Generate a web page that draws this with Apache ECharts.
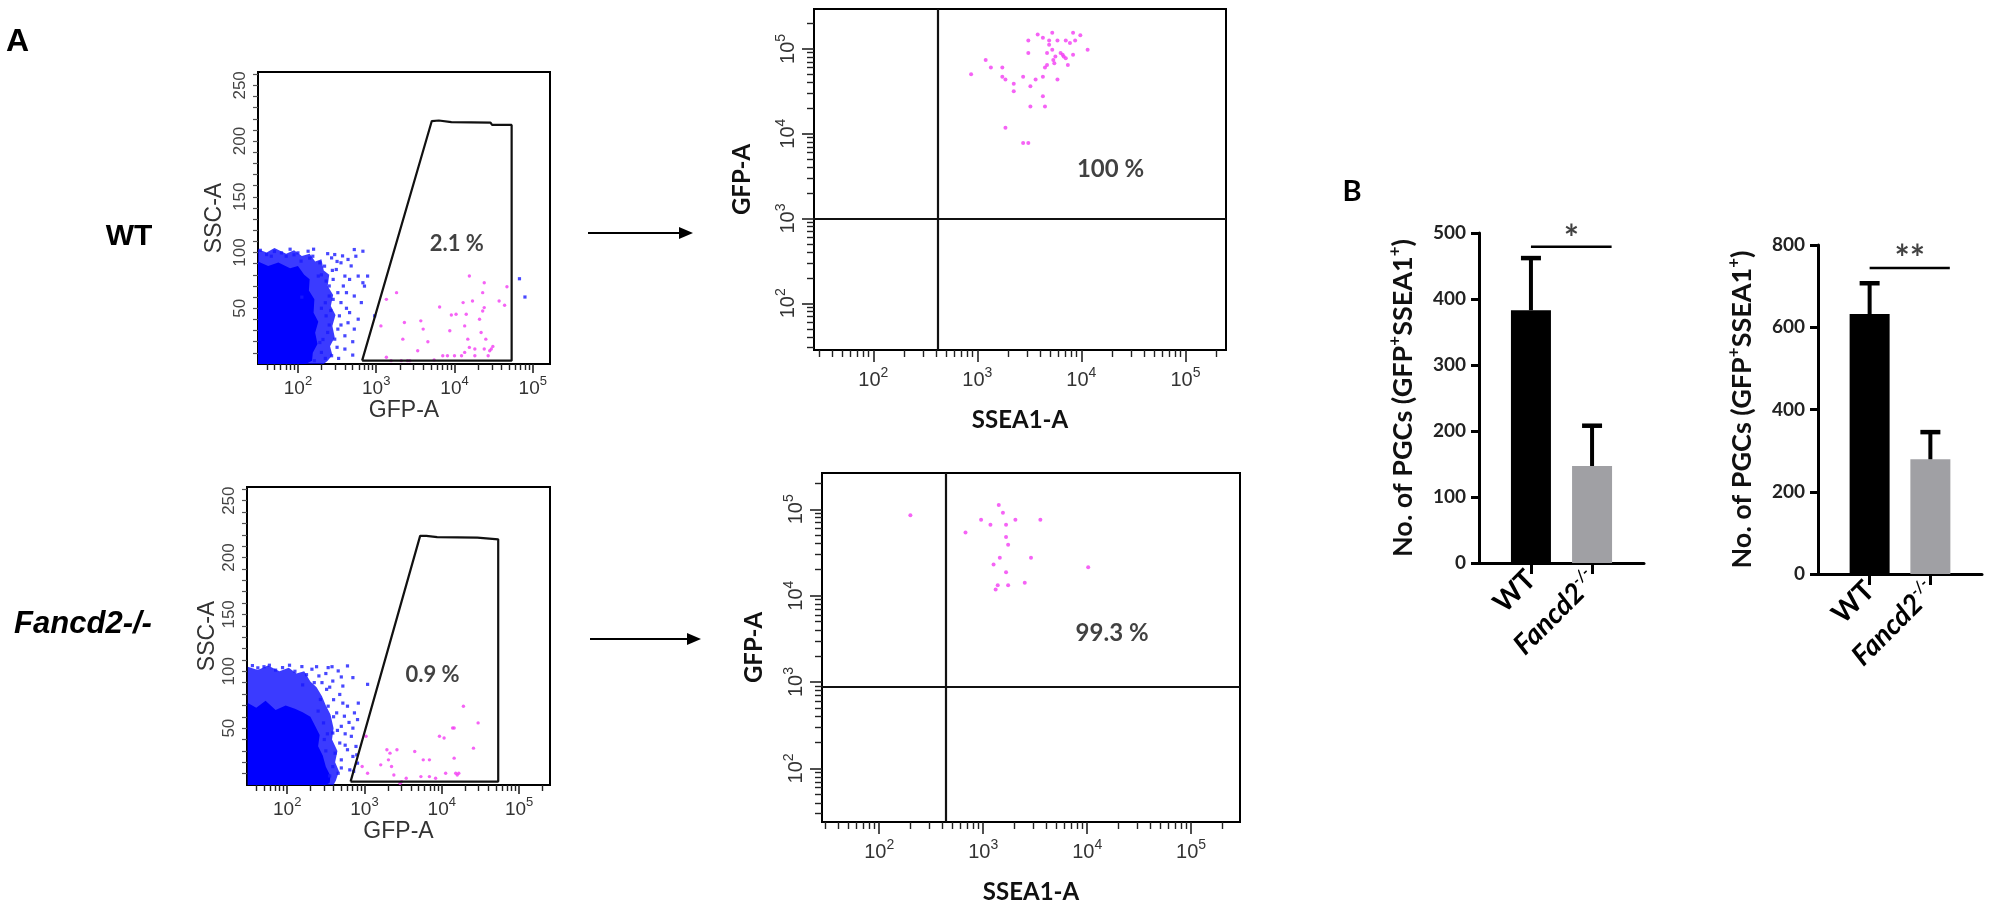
<!DOCTYPE html>
<html><head><meta charset="utf-8">
<script src="https://cdn.jsdelivr.net/npm/echarts@6/dist/echarts.min.js"></script>
<style>html,body{margin:0;padding:0;background:#fff}#c{width:1990px;height:909px}</style>
</head><body><div id="c"></div>
<script>
// ================= DATA =================
// Panel A, left column: x = log10(GFP-A), y = SSC-A (x1000)
const decadeExps = [1, 2, 3, 4, 5];
const minorMultipliers = [2, 3, 4, 5, 6, 7, 8, 9];
const sscLabels = [50, 100, 150, 200, 250];
const sscMinorTicks = [10,20,30,40,50,60,70,80,90,100,110,120,130,140,150,160,170,180,190,200,210,220,230,240,250,260];

// dense event cloud (solid core + halo outline) and individual outlying events
const wtCore = [[1.49,0],[1.49,92],[1.62,88],[1.75,91],[1.90,86],[2.00,88],[2.08,80],[2.15,76],[2.14,66],[2.21,58],[2.20,46],[2.26,38],[2.22,28],[2.25,18],[2.19,10],[2.18,3],[2.10,0]];
const wtHalo = [[1.49,0],[1.49,103],[1.60,100],[1.70,104],[1.85,99],[1.95,102],[2.05,97],[2.15,99],[2.22,92],[2.30,94],[2.33,84],[2.40,80],[2.38,70],[2.45,62],[2.42,52],[2.48,44],[2.44,34],[2.47,24],[2.41,16],[2.44,8],[2.38,3],[2.33,0]];
const wtBlue = [[1.60,98.2],[1.79,99.7],[2.00,99.7],[2.13,101.2],[2.19,96.7],[2.28,90.8],[2.34,87.8],[2.43,95.2],[2.47,98.2],[2.49,84.8],[2.55,90.8],[2.60,78.9],[2.64,93.8],[2.72,102.7],[2.74,96.7],[2.83,101.2],[2.85,69.9],[2.81,55.1],[2.72,31.3],[2.60,13.4],[2.47,22.3],[2.40,61.0],[2.51,64.0],[2.36,43.2],[2.43,7.4],[2.30,10.4],[2.21,3.0],[2.53,43.2],[2.66,75.9],[2.77,78.9],[2.60,25.3],[2.45,75.9],[2.26,78.9],[2.04,92.3],[1.85,96.7],[1.66,96.7],[2.36,74.4],[2.28,19.3],[2.55,55.1],[2.72,61.0],[2.66,46.1],[2.51,31.3],[2.38,28.3],[2.77,40.2],[2.98,43.2],[2.89,78.9],[2.83,72.9],[2.62,64.0],[1.52,102],[1.70,101],[1.95,98],[2.15,95],[2.30,80],[2.40,70],[2.35,55],[2.40,35],[2.32,22],[2.05,60],[2.30,50],[2.42,48],[2.45,58],[2.50,15],[2.55,35],[2.58,70],[2.62,50],[2.70,20],[2.68,88],[2.57,97],[2.38,99],[2.20,103],[1.90,103],[2.52,5],[2.64,37],[2.35,5],[2.44,84],[2.50,92],[2.70,8],[4.83,76.5],[4.90,60.1]];
const wtPink = [[3.26,64.0],[3.13,58.0],[3.06,34.2],[3.36,37.2],[3.57,38.7],[3.60,31.3],[3.34,22.3],[3.13,6.0],[3.19,3.0],[3.32,3.0],[3.43,3.0],[3.53,11.9],[3.66,19.9],[3.74,3.6],[3.81,51.2],[3.85,7.4],[3.94,29.8],[3.96,44.0],[4.02,44.6],[4.11,55.1],[4.13,34.2],[4.15,44.6],[4.17,22.3],[4.19,14.9],[4.19,78.9],[4.23,56.5],[4.26,7.4],[4.32,40.2],[4.34,28.3],[4.36,47.6],[4.36,64.0],[4.38,50.6],[4.38,13.4],[4.40,22.3],[4.43,7.4],[4.45,11.9],[4.47,13.4],[4.49,15.8],[4.57,56.5],[4.64,52.7],[4.67,69.3],[3.91,7.4],[4.00,7.4],[4.09,7.4],[4.13,10.4],[4.26,13.4],[4.38,72.9],[3.40,3.0]];
const wtGate = [[2.82,3],[3.71,218],[3.80,218.5],[3.96,217],[4.46,216.5],[4.48,214.5],[4.73,214.5],[4.73,3],[2.82,3]];

const koCore = [[1.49,0],[1.49,72],[1.60,68],[1.72,74],[1.85,66],[1.98,70],[2.10,67],[2.20,64],[2.30,60],[2.36,52],[2.42,44],[2.40,34],[2.46,26],[2.50,16],[2.56,8],[2.55,2],[2.50,0]];
const koHalo = [[1.49,0],[1.49,104],[1.62,101],[1.75,105],[1.90,100],[2.02,103],[2.12,98],[2.22,100],[2.30,91],[2.38,86],[2.45,78],[2.50,70],[2.56,62],[2.60,50],[2.58,40],[2.65,30],[2.62,20],[2.67,12],[2.63,4],[2.60,0]];
const koBlue = [[1.77,105.3],[1.94,103.2],[2.03,105.3],[2.19,104.1],[2.32,101.8],[2.53,103.2],[2.66,100.3],[2.78,104.7],[2.41,95.9],[2.59,91.4],[2.72,87.0],[2.85,94.4],[2.51,84.1],[2.68,79.6],[2.78,69.3],[2.87,63.4],[2.91,57.5],[2.64,63.4],[2.53,69.3],[2.43,75.2],[2.70,51.6],[2.83,42.8],[2.89,33.9],[2.78,31.0],[2.68,36.9],[2.59,45.7],[2.70,22.1],[2.85,25.1],[2.91,19.2],[2.81,13.3],[2.66,10.3],[3.04,88.5],[2.90,26.5],[2.86,12.0],[2.59,16.2],[2.47,54.6],[2.74,60.5],[1.55,105],[1.62,103],[1.70,104],[1.85,101],[2.10,100],[2.25,97],[2.35,90],[2.20,88],[2.60,75],[2.48,40],[2.62,28],[2.75,45],[2.45,90],[2.50,98],[2.55,86],[2.60,60],[2.65,48],[2.50,30],[2.55,8],[2.72,72],[2.75,35],[2.80,55],[2.58,104],[2.38,104],[2.40,65],[2.52,45],[2.70,15],[2.85,50],[2.92,72],[2.70,95]];
const koPink = [[3.02,42.8],[2.97,16.2],[3.04,10.3],[3.21,17.7],[3.29,31.0],[3.33,28.0],[3.31,22.1],[3.35,16.2],[3.38,8.8],[3.42,31.0],[3.46,1.5],[3.54,5.9],[3.65,29.5],[3.76,22.1],[3.73,7.4],[3.84,7.4],[3.92,5.9],[3.97,42.8],[4.03,41.3],[4.14,50.1],[4.16,50.1],[4.16,23.6],[4.18,10.3],[4.20,8.8],[4.22,10.3],[4.28,69.3],[4.41,32.4],[4.47,54.6],[3.48,2.9],[4.05,10.3],[3.84,22.1]];
const koGate = [[2.82,3],[3.72,219],[3.80,219],[3.94,218],[4.46,217.5],[4.48,216],[4.73,216],[4.73,3],[2.82,3]];
const gatePct = ['2.1 %', '0.9 %'];
const gatePctPos = [[4.03,108],[3.88,97]];

// Panel A, right column: x = log10(SSEA1-A), y = log10(GFP-A)
const wtQuad = [[2.94,4.70],[3.08,4.87],[3.13,4.78],[3.24,4.78],[3.24,4.67],[3.27,4.64],[3.35,4.59],[3.35,4.50],[3.27,4.07],[3.44,3.89],[3.49,3.89],[3.44,4.67],[3.49,5.10],[3.49,4.95],[3.51,4.56],[3.51,4.32],[3.56,4.64],[3.58,5.17],[3.63,5.13],[3.63,4.67],[3.63,4.44],[3.65,4.32],[3.65,4.78],[3.67,4.81],[3.67,4.95],[3.69,5.05],[3.69,5.10],[3.72,4.99],[3.72,5.19],[3.73,4.87],[3.75,4.91],[3.77,5.10],[3.77,4.64],[3.80,4.95],[3.82,4.93],[3.83,4.91],[3.85,5.10],[3.87,4.81],[3.89,5.07],[3.92,5.19],[3.92,4.93],[3.94,5.10],[3.99,5.16],[4.06,4.99],[3.85,4.89],[3.74,4.83]];
const koQuad = [[2.30,4.93],[2.83,4.73],[2.98,4.88],[3.07,4.82],[3.15,5.05],[3.19,4.96],[3.22,4.82],[3.31,4.88],[3.22,4.68],[3.24,4.59],[3.55,4.88],[3.16,4.44],[3.46,4.44],[3.10,4.36],[3.22,4.27],[4.01,4.33],[3.14,4.12],[3.24,4.12],[3.40,4.15],[3.12,4.07]];
const quadCuts = [[2.62, 3.0], [2.64, 2.94]];
const quadPct = ['100 %', '99.3 %'];
const quadPctPos = [[4.28,3.58],[4.24,3.56]];

// Panel B
const groups = ['WT', 'Fancd2'];
const pgc1Mean = [383, 147], pgc1Err = [79, 61];
const pgc2Mean = [632, 279], pgc2Err = [75, 66];
const sigMarks = ['*', '**'];
const sigLevels = [479, 744];

// ================= HELPERS =================
const ARIAL = '"Liberation Sans", Arial, sans-serif';
const CAL = 'Lato, "Open Sans", sans-serif';

function majorLog(min, max) { return decadeExps.filter(v => v >= min && v <= max); }
function minorLog(min, max) {
  const out = [];
  decadeExps.forEach(d => minorMultipliers.forEach(m => { const v = d + Math.log10(m); if (v > min && v < max) out.push(v); }));
  return out;
}
function pow10Rich(fs, color, family) {
  return {
    b: { fontSize: fs, fontFamily: family, color: color, verticalAlign: 'bottom' },
    s: { fontSize: Math.round(fs * 0.7), fontFamily: family, color: color, verticalAlign: 'bottom', padding: [0, 0, Math.round(fs * 0.5), 0] }
  };
}
function logAxes(gridIndex, min, max, o) {
  const major = {
    type: 'value', gridIndex, min, max, position: o.position,
    splitLine: { show: false },
    axisLine: { show: true, onZero: false, lineStyle: { color: '#000', width: 2 } },
    axisTick: { show: true, customValues: majorLog(min, max), length: o.majorLen, lineStyle: { color: '#222', width: 1.6 } },
    axisLabel: { show: true, customValues: majorLog(min, max), margin: o.margin, rotate: o.rotate || 0,
      formatter: v => '{b|10}{s|' + Math.round(v) + '}', rich: pow10Rich(o.fs, '#333', ARIAL) },
    name: o.name, nameLocation: 'middle', nameGap: o.nameGap, nameRotate: o.nameRotate,
    nameTextStyle: o.nameStyle
  };
  const minor = {
    type: 'value', gridIndex, min, max, position: o.position,
    splitLine: { show: false },
    axisLine: { show: false, onZero: false },
    axisTick: { show: true, customValues: minorLog(min, max), length: o.minorLen, lineStyle: { color: '#222', width: 1.4 } },
    axisLabel: { show: false }
  };
  return [major, minor];
}
function sscAxes(gridIndex, o) {
  const major = {
    type: 'value', gridIndex, min: 0, max: 262, position: 'left',
    splitLine: { show: false },
    axisLine: { show: true, onZero: false, lineStyle: { color: '#000', width: 2 } },
    axisTick: { show: true, customValues: sscMinorTicks, length: 5, lineStyle: { color: '#555', width: 1.2 } },
    axisLabel: { show: true, customValues: sscLabels, rotate: 90, margin: o.margin, fontSize: 17, fontFamily: ARIAL, color: '#444' },
    name: 'SSC-A', nameLocation: 'middle', nameGap: o.nameGap, nameRotate: 90,
    nameTextStyle: { fontSize: 23, fontFamily: ARIAL, color: '#333' }
  };
  const minor = { type: 'value', gridIndex, min: 0, max: 262, show: false };
  return [major, minor];
}
function barX(gridIndex) {
  return {
    type: 'value', gridIndex, min: 0.15, max: 2.85, position: 'bottom',
    splitLine: { show: false },
    axisLine: { show: true, onZero: false, lineStyle: { color: '#000', width: 3 } },
    axisTick: { show: true, customValues: [1, 2], length: 11, lineStyle: { color: '#000', width: 3 } },
    axisLabel: { show: true, customValues: [1, 2], rotate: 45, margin: 12,
      formatter: v => v === 1 ? '{w|' + groups[0] + '}' : '{i|' + groups[1] + '}{p|-/-}',
      rich: {
        w: { fontSize: 28, fontWeight: 'bold', fontFamily: CAL, color: '#000', verticalAlign: 'bottom' },
        i: { fontSize: 28, fontWeight: 'bold', fontStyle: 'italic', fontFamily: CAL, color: '#000', verticalAlign: 'bottom' },
        p: { fontSize: 16, fontWeight: 'bold', fontStyle: 'italic', fontFamily: CAL, color: '#000', verticalAlign: 'bottom', padding: [0, 0, 14, 0] }
      } }
  };
}
function barY(gridIndex, max, interval) {
  return {
    type: 'value', gridIndex, min: 0, max, interval, position: 'left',
    splitLine: { show: false },
    axisLine: { show: true, onZero: false, lineStyle: { color: '#000', width: 3 } },
    axisTick: { show: true, length: 8, lineStyle: { color: '#000', width: 3 } },
    axisLabel: { margin: 13, fontSize: 19, fontWeight: 'bold', fontFamily: CAL, color: '#222' },
    name: '{t|No. of PGCs (GFP}{p|+}{t|SSEA1}{p|+}{t|)}', nameLocation: 'middle', nameGap: 62, nameRotate: 90,
    nameTextStyle: { rich: {
      t: { fontSize: 27, fontWeight: 'bold', fontFamily: CAL, color: '#111', verticalAlign: 'bottom' },
      p: { fontSize: 17, fontWeight: 'bold', fontFamily: CAL, color: '#111', verticalAlign: 'bottom', padding: [0, 0, 14, 0] }
    } }
  };
}
function textSeries(xi, yi, pos, text, fs) {
  return { type: 'scatter', xAxisIndex: xi, yAxisIndex: yi, symbolSize: 1, clip: false, silent: true,
    itemStyle: { color: 'rgba(0,0,0,0)' }, data: [pos], z: 20,
    label: { show: true, position: 'inside', formatter: text, fontSize: fs, fontWeight: 'bold', fontFamily: CAL, color: '#111' } };
}
function polySeries(ai, verts, color, z) {
  return { type: 'custom', xAxisIndex: ai, yAxisIndex: ai, data: verts, silent: true, z: z,
    renderItem: (p, api) => p.dataIndex === 0 ? { type: 'polygon', shape: { points: verts.map(v => api.coord(v)) }, style: { fill: color } } : null };
}
function dots(ai, data, color, size, shape) {
  return { type: 'scatter', xAxisIndex: ai, yAxisIndex: ai, data, symbol: shape || 'circle', symbolSize: size, silent: true, z: 3,
    itemStyle: { color } };
}
function gateLine(ai, data) {
  return { type: 'line', xAxisIndex: ai, yAxisIndex: ai, data, symbol: 'none', silent: true, z: 5,
    lineStyle: { color: '#111', width: 2.2 } };
}
function errSeries(ai, means, errs) {
  return { type: 'custom', xAxisIndex: ai, yAxisIndex: ai, z: 4, silent: true,
    data: means.map((m, i) => [i + 1, m, m + errs[i]]),
    renderItem: (p, api) => {
      const a = api.coord([api.value(0), api.value(1)]);
      const b = api.coord([api.value(0), api.value(2)]);
      return { type: 'group', children: [
        { type: 'line', shape: { x1: a[0], y1: a[1], x2: b[0], y2: b[1] }, style: { stroke: '#000', lineWidth: 4 } },
        { type: 'line', shape: { x1: b[0] - 10, y1: b[1], x2: b[0] + 10, y2: b[1] }, style: { stroke: '#000', lineWidth: 4.5 } }
      ] };
    } };
}
function barSeries(ai, means) {
  return { type: 'bar', xAxisIndex: ai, yAxisIndex: ai, barWidth: 40, silent: true, z: 2,
    data: means.map((m, i) => ({ value: [i + 1, m], itemStyle: { color: i === 0 ? '#000000' : '#a0a0a4' } })) };
}

// ================= AXES =================
const facsTitle = { fontSize: 24, fontWeight: 'bold', fontFamily: CAL, color: '#111' };
const leftTitle = { fontSize: 23, fontFamily: ARIAL, color: '#333' };
const xAxes = [];
const yAxes = [];
xAxes.push(...logAxes(0, 1.49, 5.22, { position: 'bottom', majorLen: 9, minorLen: 6, margin: 11, fs: 19, name: 'GFP-A', nameGap: 33, nameStyle: leftTitle }));
yAxes.push(...sscAxes(0, { margin: 9, nameGap: 32 }));
xAxes.push(...logAxes(1, 1.48, 5.40, { position: 'bottom', majorLen: 9, minorLen: 6, margin: 11, fs: 19, name: 'GFP-A', nameGap: 31, nameStyle: leftTitle }));
yAxes.push(...sscAxes(1, { margin: 9, nameGap: 28 }));
xAxes.push(...logAxes(2, 1.43, 5.39, { position: 'bottom', majorLen: 12, minorLen: 7, margin: 16, fs: 20, name: 'SSEA1-A', nameGap: 58, nameStyle: facsTitle }));
yAxes.push(...logAxes(2, 1.45, 5.47, { position: 'left', majorLen: 12, minorLen: 7, margin: 16, fs: 20, rotate: 90, name: 'GFP-A', nameGap: 60, nameRotate: 90, nameStyle: facsTitle }));
xAxes.push(...logAxes(3, 1.45, 5.47, { position: 'bottom', majorLen: 12, minorLen: 7, margin: 16, fs: 20, name: 'SSEA1-A', nameGap: 58, nameStyle: facsTitle }));
yAxes.push(...logAxes(3, 1.38, 5.42, { position: 'left', majorLen: 12, minorLen: 7, margin: 16, fs: 20, rotate: 90, name: 'GFP-A', nameGap: 56, nameRotate: 90, nameStyle: facsTitle }));
xAxes.push(barX(4), barX(5));
yAxes.push(barY(4, 500, 100), barY(5, 800, 200));

// ================= SERIES =================
const series = [
  polySeries(0, wtHalo, 'rgba(10,10,255,0.8)', 1),
  polySeries(0, wtCore, '#0000ff', 2),
  dots(0, wtBlue, '#1a1aff', 3.2, 'rect'),
  dots(0, wtPink, '#f23cf2', 3.4),
  gateLine(0, wtGate),
  textSeries(0, 0, gatePctPos[0], gatePct[0], 22),

  polySeries(2, koHalo, 'rgba(10,10,255,0.8)', 1),
  polySeries(2, koCore, '#0000ff', 2),
  dots(2, koBlue, '#1a1aff', 3.2, 'rect'),
  dots(2, koPink, '#f23cf2', 3.4),
  gateLine(2, koGate),
  textSeries(2, 2, gatePctPos[1], gatePct[1], 22),

  Object.assign(dots(4, wtQuad, '#f23cf2', 4), {
    markLine: { silent: true, symbol: 'none', label: { show: false }, lineStyle: { color: '#111', width: 2.2, type: 'solid' },
      data: [{ xAxis: quadCuts[0][0] }, { yAxis: quadCuts[0][1] }] } }),
  textSeries(4, 4, quadPctPos[0], quadPct[0], 24),

  Object.assign(dots(6, koQuad, '#f23cf2', 4), {
    markLine: { silent: true, symbol: 'none', label: { show: false }, lineStyle: { color: '#111', width: 2.2, type: 'solid' },
      data: [{ xAxis: quadCuts[1][0] }, { yAxis: quadCuts[1][1] }] } }),
  textSeries(6, 6, quadPctPos[1], quadPct[1], 24),

  barSeries(8, pgc1Mean),
  errSeries(8, pgc1Mean, pgc1Err),
  { type: 'line', xAxisIndex: 8, yAxisIndex: 8, data: [[1, sigLevels[0]], [2.32, sigLevels[0]]], symbol: 'none', silent: true, lineStyle: { color: '#000', width: 2.5 } },
  textSeries(8, 8, [1.66, sigLevels[0] + 12], sigMarks[0], 36),

  barSeries(9, pgc2Mean),
  errSeries(9, pgc2Mean, pgc2Err),
  { type: 'line', xAxisIndex: 9, yAxisIndex: 9, data: [[1, sigLevels[1]], [2.32, sigLevels[1]]], symbol: 'none', silent: true, lineStyle: { color: '#000', width: 2.5 } },
  textSeries(9, 9, [1.66, sigLevels[1] + 20], sigMarks[1], 36)
];

// ================= CHART =================
const chart = echarts.init(document.getElementById('c'), null, { renderer: 'canvas' });
chart.setOption({
  animation: false,
  backgroundColor: '#ffffff',
  grid: [
    { left: 258, top: 72, width: 292, height: 292, show: true, borderColor: '#000', borderWidth: 2 },
    { left: 247, top: 487, width: 303, height: 298, show: true, borderColor: '#000', borderWidth: 2 },
    { left: 814, top: 9, width: 412, height: 341, show: true, borderColor: '#000', borderWidth: 2 },
    { left: 822, top: 473, width: 418, height: 349, show: true, borderColor: '#000', borderWidth: 2 },
    { left: 1479, top: 233, width: 165, height: 330 },
    { left: 1818, top: 245, width: 164, height: 329 }
  ],
  xAxis: xAxes,
  yAxis: yAxes,
  series: series,
  graphic: [
    { type: 'text', left: 6, top: 26, style: { text: 'A', font: 'bold 32px "Liberation Sans", Arial', fill: '#000' } },
    { type: 'text', x: 129, y: 237, style: { text: 'WT', font: 'bold 30px "Liberation Sans", Arial', fill: '#000', align: 'center', verticalAlign: 'middle' } },
    { type: 'text', x: 83, y: 624, style: { text: 'Fancd2-/-', font: 'italic bold 31px "Liberation Sans", Arial', fill: '#000', align: 'center', verticalAlign: 'middle' } },
    { type: 'text', x: 1352, y: 192, style: { text: 'B', font: 'bold 29px Lato', fill: '#000', align: 'center', verticalAlign: 'middle' } },
    { type: 'line', shape: { x1: 588, y1: 233, x2: 682, y2: 233 }, style: { stroke: '#000', lineWidth: 2 } },
    { type: 'polygon', shape: { points: [[693, 233], [679, 227], [679, 239]] }, style: { fill: '#000' } },
    { type: 'line', shape: { x1: 590, y1: 639, x2: 690, y2: 639 }, style: { stroke: '#000', lineWidth: 2 } },
    { type: 'polygon', shape: { points: [[701, 639], [687, 633], [687, 645]] }, style: { fill: '#000' } }
  ]
});
</script>
</body></html>
